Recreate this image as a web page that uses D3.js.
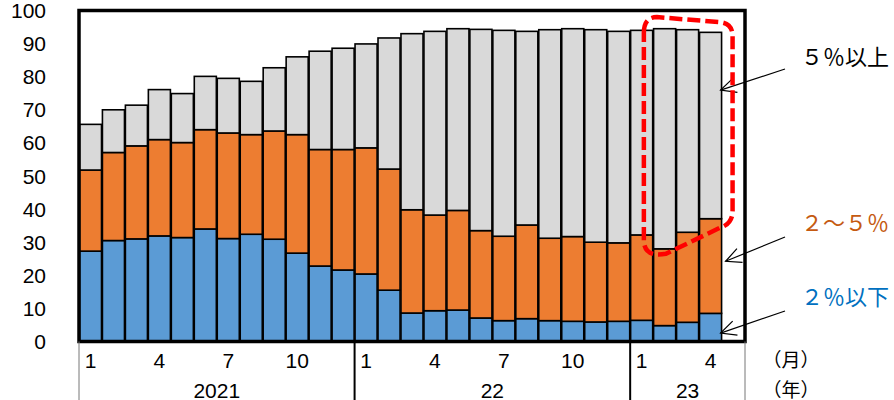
<!DOCTYPE html>
<html>
<head>
<meta charset="utf-8">
<script src="https://cdn.jsdelivr.net/npm/d3@7"></script>
<style>
  body { margin: 0; background: #fff; }
  svg { display: block; }
</style>
</head>
<body>
<div id="chart"></div>
<script>
// months Jan 2021 .. Apr 2023, plus one empty slot (May 2023)
var months = [1,2,3,4,5,6,7,8,9,10,11,12, 1,2,3,4,5,6,7,8,9,10,11,12, 1,2,3,4];
var years = ["2021", "22", "23"];
var yearLengths = [12, 12, 5];
var tickMonths = [1, 4, 7, 10];
var yTicks = [0,10,20,30,40,50,60,70,80,90,100];

// share of firms (%) by expected price change
var low  = [27.3,30.5,31.0,31.9,31.4,34.0,31.1,32.4,30.9,26.7,22.8,21.6,20.4,15.5,8.6,9.3,9.5,7.1,6.3,6.9,6.3,6.1,5.9,6.1,6.4,4.8,5.8,8.5];
var mid  = [24.5,26.6,28.1,29.1,28.7,30.0,31.9,30.1,32.7,35.8,35.2,36.4,38.1,36.6,31.2,28.9,30.1,26.4,25.5,28.3,24.9,25.6,24.1,23.7,25.8,23.2,27.2,28.6];
var high = [13.8,12.9,12.3,15.1,14.8,16.1,16.5,16.1,19.1,23.5,29.7,30.6,31.4,39.6,53.2,55.5,54.9,60.8,62.2,58.5,63.0,62.8,64.2,63.9,61.8,66.5,61.2,56.3];

var seriesNames = ["２％以下", "２～５％", "５％以上"];
var colors = ["#5B9BD5", "#ED7D31", "#D9D9D9"];

var width = 894, height = 400;
var pL = 79, pR = 745, pT = 10.5, pB = 341.5;
var numFont = "'Liberation Sans Narrow', 'Liberation Sans', Arial, sans-serif";
var jpFont = "'Noto Sans CJK JP', sans-serif";

var svg = d3.select("#chart").append("svg")
  .attr("width", width)
  .attr("height", height);

var slots = d3.range(months.length + 1);
var x = d3.scaleBand().domain(slots).range([pL, pR]).paddingInner(0.04).paddingOuter(0.02);
var xs = d3.scaleBand().domain(slots).range([pL, pR]); // full slot for labels
var y = d3.scaleLinear().domain([0, 100]).range([pB, pT]);

/* stacked bars */
var rows = months.map(function(m, i) { return { i: i, low: low[i], mid: mid[i], high: high[i] }; });
var stack = d3.stack().keys(["low", "mid", "high"]);
var layers = stack(rows);

svg.append("g").selectAll("g")
  .data(layers).enter()
  .append("g")
  .attr("fill", function(d, k) { return colors[k]; })
  .selectAll("rect")
  .data(function(d) { return d; }).enter()
  .append("rect")
  .attr("x", function(d) { return x(d.data.i); })
  .attr("width", x.bandwidth())
  .attr("y", function(d) { return y(d[1]); })
  .attr("height", function(d) { return y(d[0]) - y(d[1]); })
  .attr("stroke", "#000")
  .attr("stroke-width", 1.6);

/* frame */
svg.append("rect")
  .attr("x", pL).attr("y", pT)
  .attr("width", pR - pL).attr("height", pB - pT)
  .attr("fill", "none").attr("stroke", "#000").attr("stroke-width", 3.5);

/* y axis labels */
svg.append("g").selectAll("text")
  .data(yTicks).enter()
  .append("text")
  .attr("x", 46)
  .attr("y", function(d) { return y(d); })
  .attr("dy", "0.36em")
  .attr("text-anchor", "end")
  .style("font-family", numFont)
  .style("font-size", "21px")
  .text(function(d) { return d; });

/* month labels */
svg.append("g").selectAll("text")
  .data(rows.filter(function(d) { return tickMonths.indexOf(months[d.i]) >= 0; })).enter()
  .append("text")
  .attr("x", function(d) { return xs(d.i) + xs.bandwidth() / 2; })
  .attr("y", 360)
  .attr("dy", "0.36em")
  .attr("text-anchor", "middle")
  .style("font-family", numFont)
  .style("font-size", "21px")
  .text(function(d) { return months[d.i]; });

/* year groups */
var starts = [0];
yearLengths.forEach(function(n, k) { starts.push(starts[k] + n); });
var bounds = starts.map(function(s) { return s < slots.length ? xs(s) : pR; });

svg.append("g").selectAll("line")
  .data(bounds).enter()
  .append("line")
  .attr("x1", function(d) { return d; })
  .attr("x2", function(d) { return d; })
  .attr("y1", pB)
  .attr("y2", height)
  .attr("stroke", function(d, k) { return (k === 0 || k === bounds.length - 1) ? "#777" : "#000"; })
  .attr("stroke-width", function(d, k) { return (k === 0 || k === bounds.length - 1) ? 1 : 2; });

svg.append("g").selectAll("text")
  .data(years).enter()
  .append("text")
  .attr("x", function(d, k) { return (bounds[k] + bounds[k + 1]) / 2; })
  .attr("y", 390)
  .attr("dy", "0.36em")
  .attr("text-anchor", "middle")
  .style("font-family", numFont)
  .style("font-size", "21px")
  .text(function(d) { return d; });

svg.append("text").attr("x", 791).attr("y", 360).attr("dy", "0.36em")
  .attr("text-anchor", "middle")
  .style("font-family", jpFont).style("font-size", "19px")
  .text("（月）");
svg.append("text").attr("x", 791).attr("y", 390).attr("dy", "0.36em")
  .attr("text-anchor", "middle")
  .style("font-family", jpFont).style("font-size", "19px")
  .text("（年）");

/* series labels with arrows */
var last = months.length - 1;
var barRight = x(last) + x.bandwidth();
var labelInfo = [
  { name: seriesNames[2], color: "#000",    ly: 57,  tx: 785, ty: 69,  ax: barRight - 1, ay: y(low[last] + mid[last] + high[last] * 0.69) },
  { name: seriesNames[1], color: "#C55A11", ly: 223, tx: 785, ty: 237, ax: barRight + 4, ay: y(low[last] + mid[last] * 0.55) },
  { name: seriesNames[0], color: "#0070C0", ly: 297, tx: 785, ty: 311, ax: barRight - 1, ay: y(low[last] * 0.3) }
];

var lab = svg.append("g").selectAll("g").data(labelInfo).enter().append("g");
lab.append("text")
  .attr("x", 801)
  .attr("y", function(d) { return d.ly; })
  .attr("dy", "0.36em")
  .attr("fill", function(d) { return d.color; })
  .style("font-family", jpFont)
  .style("font-size", "22px")
  .text(function(d) { return d.name; });
lab.append("line")
  .attr("x1", function(d) { return d.tx; }).attr("y1", function(d) { return d.ty; })
  .attr("x2", function(d) { return d.ax; }).attr("y2", function(d) { return d.ay; })
  .attr("stroke", "#000").attr("stroke-width", 1.2);
lab.append("path")
  .attr("d", function(d) {
    var a = Math.atan2(d.ty - d.ay, d.tx - d.ax), L = 17, s = 0.45;
    var p1 = [d.ax + L * Math.cos(a - s), d.ay + L * Math.sin(a - s)];
    var p2 = [d.ax + L * Math.cos(a + s), d.ay + L * Math.sin(a + s)];
    return "M" + p1 + "L" + [d.ax, d.ay] + "L" + p2;
  })
  .attr("fill", "none").attr("stroke", "#000").attr("stroke-width", 1.2);

/* red dashed highlight around the last four months */
var hx0 = x(last - 3) + x.bandwidth() * 0.6;
var hx1 = barRight + 11;
var hy0 = y(97.7), hy1 = y(26.5);
var r = 13;
var hl = "M" + hx0 + "," + (hy0 + r + 2) +
  " Q" + hx0 + "," + (hy0 - 1) + " " + (hx0 + r) + "," + (hy0 - 1) +
  " L" + (hx1 - r) + "," + (hy0 + 4) +
  " Q" + hx1 + "," + (hy0 + 5) + " " + hx1 + "," + (hy0 + r + 5) +
  " L" + hx1 + "," + (y(35.5) - r) +
  " Q" + hx1 + "," + y(35.5) + " " + (hx1 - r) + "," + (y(35.5) + 4) +
  " L" + (hx0 + 22) + "," + hy1 +
  " Q" + hx0 + "," + (hy1 + 4) + " " + hx0 + "," + (hy1 - 14) + " Z";
svg.append("path")
  .attr("d", hl)
  .attr("fill", "none")
  .attr("stroke", "#FF0000")
  .attr("stroke-width", 4.5)
  .attr("stroke-dasharray", "13,5");
</script>
</body>
</html>
